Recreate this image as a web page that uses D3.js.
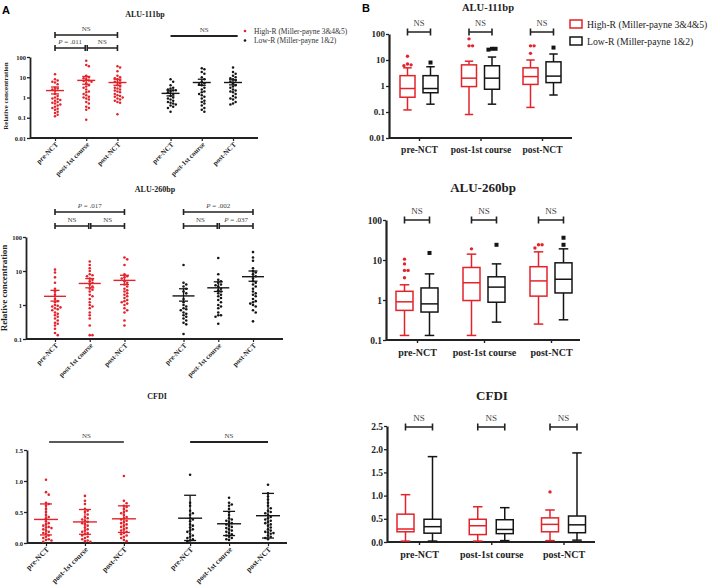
<!DOCTYPE html>
<html><head><meta charset="utf-8">
<script src="https://cdn.jsdelivr.net/npm/d3@7"></script>
<style>
body{margin:0;background:#fff;}
svg{display:block;font-family:"Liberation Serif","Times New Roman",serif;}
</style></head>
<body>
<svg id="c" width="709" height="586"></svg>
<script>
// ---------------- DATA ----------------
const groups = ["pre-NCT", "post-1st course", "post-NCT"];
const seriesNames = ["High-R (Miller-payne 3&4&5)", "Low-R (Miller-payne 1&2)"];
const logTicks4 = [0.01, 0.1, 1, 10, 100];
const logTicks3 = [0.1, 1, 10, 100];
const cfdiTicksA = [0, 0.5, 1.0, 1.5];
const cfdiTicksB = [0, 0.5, 1.0, 1.5, 2.0, 2.5];

// Panel A – individual values (scatter)
const a111High = [
  [14, 8, 7, 6, 5.5, 4.5, 3, 2.8, 2.5, 2.2, 1.5, 1.2, 1, 0.9, 0.85, 0.75, 0.7, 0.6, 0.55, 0.5, 0.45, 0.4, 0.35, 0.3, 0.28, 0.25, 0.2, 0.17, 0.14, 0.12],
  [65, 40, 35, 12, 10, 9, 8, 7, 6.5, 6, 5, 4, 3.5, 3, 2.5, 2, 1.8, 1.5, 1.3, 1.1, 1, 0.9, 0.8, 0.6, 0.5, 0.35, 0.3, 0.25, 0.08],
  [35, 30, 20, 12, 10, 9, 8, 7, 6, 5.5, 5, 4, 3.5, 3, 2.8, 2.5, 2.2, 2, 1.8, 1.5, 1.3, 1.2, 1.1, 1, 0.9, 0.8, 0.7, 0.6, 0.55, 0.15]
];
const a111Low = [
  [8, 6, 4, 3, 2.8, 2.5, 2.3, 2.2, 2, 1.8, 1.5, 1.2, 1, 0.9, 0.8, 0.7, 0.6, 0.55, 0.5, 0.45, 0.4, 0.35, 0.3, 0.2],
  [28, 25, 18, 15, 10, 8, 6, 5, 4.5, 4, 3, 2.5, 2, 1.8, 1.5, 1.3, 1.1, 0.9, 0.7, 0.6, 0.5, 0.4, 0.3, 0.25, 0.2],
  [30, 18, 15, 12, 10, 9, 8, 7, 6, 5, 4, 3.5, 3, 2.5, 2.2, 2, 1.8, 1.5, 1.2, 1, 0.9, 0.8, 0.6, 0.5, 0.45]
];
const a111HighMean = [2.2, 7, 5.5], a111HighLo = [1.5, 4.5, 4], a111HighHi = [3.3, 11, 8];
const a111LowMean = [1.6, 5.5, 5.5], a111LowLo = [1.2, 4, 4.2], a111LowHi = [2.3, 8, 7.5];

const a260High = [
  [11, 9, 6.5, 4.5, 3, 2.5, 2, 1.5, 1.3, 1.2, 1, 0.95, 0.9, 0.85, 0.8, 0.75, 0.7, 0.6, 0.55, 0.5, 0.45, 0.4, 0.35, 0.3, 0.28, 0.25, 0.2, 0.15, 0.13],
  [19, 15, 12, 10, 8, 7.5, 7, 6, 5.5, 5, 4.5, 4, 3.5, 3, 2.8, 2.5, 2, 1.8, 1.5, 1.2, 1, 0.9, 0.8, 0.6, 0.5, 0.4, 0.25, 0.13, 0.13],
  [25, 22, 15, 8, 7, 6.5, 6, 5, 4.5, 4, 3.5, 3, 2.7, 2.5, 2.2, 2, 1.8, 1.6, 1.4, 1.3, 1.2, 1.1, 1, 0.8, 0.7, 0.6, 0.35, 0.25]
];
const a260Low = [
  [15, 4.5, 4, 3.5, 3, 2.5, 2.2, 1.5, 1.2, 1, 0.9, 0.8, 0.75, 0.7, 0.6, 0.55, 0.5, 0.45, 0.4, 0.35, 0.3, 0.27, 0.14],
  [24, 8, 5.5, 5, 4.5, 4, 3.8, 3.5, 3, 2.7, 2.5, 2.2, 2, 1.8, 1.6, 1.4, 1.2, 1, 0.9, 0.8, 0.6, 0.5, 0.5, 0.45, 0.28],
  [36, 25, 20, 12, 10, 9, 8, 7, 6, 5, 4.5, 4, 3.5, 3, 2.5, 2.2, 2, 1.8, 1.5, 1.3, 1.2, 1.1, 1, 0.9, 0.7, 0.6, 0.33]
];
const a260HighMean = [1.8, 4.3, 5.3], a260HighLo = [1.3, 3.2, 4], a260HighHi = [2.7, 6, 7.5];
const a260LowMean = [1.85, 3.2, 6.8], a260LowLo = [1.3, 2.5, 5], a260LowHi = [3, 4.8, 10];

const aCfdiHigh = [
  [1.02, 0.82, 0.78, 0.65, 0.63, 0.6, 0.55, 0.5, 0.45, 0.42, 0.4, 0.35, 0.32, 0.3, 0.28, 0.26, 0.25, 0.24, 0.22, 0.2, 0.18, 0.16, 0.15, 0.12, 0.1, 0.08, 0.06, 0.05, 0.04, 0.02],
  [0.76, 0.68, 0.63, 0.55, 0.52, 0.5, 0.46, 0.42, 0.4, 0.38, 0.36, 0.34, 0.32, 0.3, 0.28, 0.25, 0.22, 0.2, 0.18, 0.16, 0.14, 0.12, 0.1, 0.08, 0.06, 0.04, 0.03, 0.02],
  [1.08, 0.68, 0.64, 0.6, 0.58, 0.55, 0.52, 0.5, 0.48, 0.45, 0.42, 0.4, 0.38, 0.36, 0.34, 0.32, 0.3, 0.28, 0.26, 0.24, 0.22, 0.2, 0.18, 0.16, 0.14, 0.12, 0.1, 0.08, 0.05, 0.03]
];
const aCfdiLow = [
  [1.1, 0.65, 0.6, 0.52, 0.48, 0.45, 0.4, 0.38, 0.35, 0.3, 0.28, 0.25, 0.22, 0.2, 0.18, 0.15, 0.12, 0.1, 0.08, 0.06, 0.04, 0.03],
  [0.73, 0.65, 0.62, 0.6, 0.55, 0.5, 0.45, 0.4, 0.38, 0.36, 0.34, 0.32, 0.3, 0.28, 0.26, 0.24, 0.22, 0.2, 0.18, 0.16, 0.14, 0.12, 0.1, 0.08, 0.06, 0.05],
  [0.94, 0.8, 0.75, 0.7, 0.65, 0.6, 0.56, 0.52, 0.5, 0.48, 0.45, 0.42, 0.4, 0.38, 0.36, 0.34, 0.32, 0.3, 0.28, 0.25, 0.22, 0.2, 0.18, 0.17, 0.16, 0.15, 0.12, 0.1, 0.08, 0.06]
];
const aCfdiHighMean = [0.38, 0.34, 0.39], aCfdiHighLo = [0.13, 0.14, 0.17], aCfdiHighHi = [0.63, 0.54, 0.6];
const aCfdiLowMean = [0.4, 0.31, 0.44], aCfdiLowLo = [0.04, 0.12, 0.08], aCfdiLowHi = [0.77, 0.51, 0.8];

// Panel B – box summaries [min, q1, median, q3, max] and outliers
const b111High = [[0.12, 0.37, 0.8, 2.5, 5], [0.08, 0.95, 2, 6.5, 9], [0.15, 1.15, 2.3, 5, 10]];
const b111HighOut = [[6, 6.5, 7, 14], [35, 35, 65], [18, 35, 35]];
const b111Low = [[0.2, 0.55, 0.8, 2.5, 5.5], [0.2, 0.75, 2, 6, 13], [0.45, 1.35, 2.4, 8.5, 17]];
const b111LowOut = [[8], [25, 27, 27], [30]];

const b260High = [[0.13, 0.55, 0.9, 1.65, 2.4], [0.13, 0.97, 2.7, 6.5, 14], [0.25, 1.25, 3, 6.8, 16]];
const b260HighOut = [[3.6, 5.5, 5.5, 8, 10.5], [19], [20, 24, 24]];
const b260Low = [[0.13, 0.5, 0.8, 2, 4.5], [0.28, 0.88, 2.1, 3.8, 8], [0.32, 1.5, 3.3, 8.5, 19]];
const b260LowOut = [[15], [24], [24, 36]];

const bCfdiHigh = [[0.02, 0.22, 0.28, 0.6, 1.02], [0.02, 0.16, 0.35, 0.49, 0.76], [0.03, 0.22, 0.38, 0.52, 0.69]];
const bCfdiHighOut = [[], [], [1.08]];
const bCfdiLow = [[0.02, 0.19, 0.33, 0.49, 1.84], [0.03, 0.18, 0.27, 0.48, 0.74], [0.04, 0.2, 0.37, 0.56, 1.92]];
const bCfdiLowOut = [[], [], []];

// ---------------- DRAWING ----------------
const RED = "#e3232b", BLK = "#151515";
const svg = d3.select("#c");

function swarm(vals, y, r) {
  const pts = vals.map(v => ({ v, y: y(v) })).sort((a, b) => a.y - b.y);
  const placed = [];
  for (const p of pts) {
    for (let k = 0; k < 40; k++) {
      const off = k === 0 ? 0 : (k % 2 ? 1 : -1) * Math.ceil(k / 2) * r * 2.1;
      if (!placed.some(q => Math.hypot(q.dx - off, q.y - p.y) < r * 2.05)) { p.dx = off; placed.push(p); break; }
    }
  }
  return placed;
}

function yAxis(g, y, ticks, fmt, x0, fs, sw) {
  const ax = g.append("g").attr("transform", `translate(${x0},0)`)
    .call(d3.axisLeft(y).tickValues(ticks).tickFormat(fmt).tickSize(3).tickSizeOuter(0));
  ax.select(".domain").attr("stroke", "#222").attr("stroke-width", sw || 1.8);
  ax.selectAll(".tick line").attr("stroke", "#222").attr("stroke-width", 1.3);
  ax.selectAll("text").attr("font-family", "Liberation Serif").attr("font-weight", "bold")
    .attr("font-size", fs).attr("fill", "#222").attr("x", -4);
}

function scatterPanel(cfg) {
  const g = svg.append("g");
  const x = d3.scaleLinear().domain([0, 5.7]).range(cfg.xr);
  const pos = [[0, 1, 2], [3.7, 4.7, 5.7]];
  const y = cfg.y;
  g.append("line").attr("x1", cfg.axX[0]).attr("x2", cfg.axX[1])
    .attr("y1", cfg.axY).attr("y2", cfg.axY).attr("stroke", "#222").attr("stroke-width", 1.8);
  const xa = g.append("g").attr("transform", `translate(0,${cfg.axY})`)
    .call(d3.axisBottom(x).tickValues(pos[0].concat(pos[1]))
      .tickFormat((d, i) => groups[i % 3]).tickSize(3).tickSizeOuter(0));
  xa.select(".domain").remove();
  xa.selectAll(".tick line").attr("stroke", "#222").attr("stroke-width", 1.2);
  xa.selectAll("text").attr("font-family", "Liberation Serif").attr("font-weight", "bold")
    .attr("font-size", cfg.xfs).attr("fill", "#222").attr("text-anchor", "end")
    .attr("dy", 0).attr("y", 0).attr("transform", "translate(3,7) rotate(-45)");
  yAxis(g, y, cfg.ticks, cfg.fmt, cfg.axX[0], cfg.yfs);
  if (cfg.ylabel) {
    g.append("text").attr("transform", `translate(${cfg.ylabelX},${cfg.ylabelY}) rotate(-90)`)
      .attr("text-anchor", "middle").attr("font-weight", "bold").attr("font-size", cfg.ylfs)
      .attr("fill", "#222").text("Relative concentration");
  }
  g.append("text").attr("x", cfg.title[0]).attr("y", cfg.title[1]).attr("text-anchor", "middle")
    .attr("font-weight", "bold").attr("font-size", cfg.tfs).attr("fill", "#222").text(cfg.title[2]);
  [[cfg.hi, RED, cfg.hiM, cfg.hiL, cfg.hiH], [cfg.lo, BLK, cfg.loM, cfg.loL, cfg.loH]].forEach((s, si) => {
    s[0].forEach((vals, gi) => {
      const cx = x(pos[si][gi]);
      const pts = swarm(vals, y, cfg.r);
      g.append("g").selectAll("circle").data(pts).join("circle")
        .attr("cx", d => cx + d.dx).attr("cy", d => d.y).attr("r", cfg.r).attr("fill", s[1]);
      const m = s[2][gi], lo = s[3][gi], hi = s[4][gi];
      g.append("line").attr("x1", cx - cfg.mw).attr("x2", cx + cfg.mw).attr("y1", y(m)).attr("y2", y(m))
        .attr("stroke", s[1]).attr("stroke-width", 1.4);
      g.append("line").attr("x1", cx).attr("x2", cx).attr("y1", y(lo)).attr("y2", y(hi))
        .attr("stroke", s[1]).attr("stroke-width", 1.3);
      [lo, hi].forEach(v => g.append("line").attr("x1", cx - cfg.cw).attr("x2", cx + cfg.cw)
        .attr("y1", y(v)).attr("y2", y(v)).attr("stroke", s[1]).attr("stroke-width", 1.3));
    });
  });
  (cfg.brackets || []).forEach(b => {
    const x1 = x(b[0]) + (b[4] || 0), x2 = x(b[1]) + (b[5] || 0), yy = b[2];
    const p = d3.path();
    if (b[6] === "plain") { p.moveTo(x1, yy); p.lineTo(x2, yy); }
    else { p.moveTo(x1, yy - 3); p.lineTo(x1, yy + 3); p.moveTo(x1, yy); p.lineTo(x2, yy); p.moveTo(x2, yy - 3); p.lineTo(x2, yy + 3); }
    g.append("path").attr("d", p.toString()).attr("stroke", "#222").attr("stroke-width", b[7] || 1.6).attr("fill", "none");
    const t = g.append("text").attr("x", (x1 + x2) / 2).attr("y", yy - 4).attr("text-anchor", "middle")
      .attr("font-size", cfg.bfs).attr("fill", "#444");
    if (b[3].startsWith("P")) {
      t.append("tspan").attr("font-style", "italic").text("P");
      t.append("tspan").text(b[3].slice(1));
    } else t.text(b[3]);
  });
  return g;
}

function boxPanel(cfg) {
  const g = svg.append("g");
  const x = d3.scalePoint().domain(groups).range(cfg.xr);
  const inner = d3.scalePoint().domain(seriesNames).range([-cfg.off, cfg.off]);
  const y = cfg.y;
  g.append("line").attr("x1", cfg.axX[0]).attr("x2", cfg.axX[1])
    .attr("y1", cfg.axY).attr("y2", cfg.axY).attr("stroke", "#222").attr("stroke-width", 2.2);
  const xa = g.append("g").attr("transform", `translate(0,${cfg.axY})`)
    .call(d3.axisBottom(x).tickSize(3).tickSizeOuter(0));
  xa.select(".domain").remove();
  xa.selectAll(".tick line").attr("stroke", "#222").attr("stroke-width", 1.4);
  xa.selectAll("text").attr("font-family", "Liberation Serif").attr("font-weight", "bold")
    .attr("font-size", cfg.xfs).attr("fill", "#222").attr("y", cfg.xly);
  yAxis(g, y, cfg.ticks, cfg.fmt, cfg.axX[0], cfg.yfs, 2.2);
  g.append("text").attr("x", cfg.title[0]).attr("y", cfg.title[1]).attr("text-anchor", "middle")
    .attr("font-weight", "bold").attr("font-size", cfg.tfs).attr("fill", "#222").text(cfg.title[2]);
  const w = cfg.bw;
  [[cfg.hi, cfg.hiOut, RED, seriesNames[0]], [cfg.lo, cfg.loOut, BLK, seriesNames[1]]].forEach(s => {
    s[0].forEach((st, gi) => {
      const cx = x(groups[gi]) + inner(s[3]);
      const [mn, q1, md, q3, mx] = st;
      const gg = g.append("g").attr("stroke", s[2]).attr("stroke-width", 1.5).attr("fill", "none");
      gg.append("line").attr("x1", cx).attr("x2", cx).attr("y1", y(q1)).attr("y2", y(mn));
      gg.append("line").attr("x1", cx).attr("x2", cx).attr("y1", y(q3)).attr("y2", y(mx));
      [mn, mx].forEach(v => gg.append("line").attr("x1", cx - w * 0.28).attr("x2", cx + w * 0.28)
        .attr("y1", y(v)).attr("y2", y(v)));
      gg.append("rect").attr("x", cx - w / 2).attr("width", w).attr("y", y(q3)).attr("height", y(q1) - y(q3));
      gg.append("line").attr("x1", cx - w / 2).attr("x2", cx + w / 2).attr("y1", y(md)).attr("y2", y(md));
      const outs = s[1][gi];
      const pts = swarm(outs, y, 1.7);
      pts.forEach(p => {
        if (s[2] === RED) g.append("circle").attr("cx", cx + p.dx).attr("cy", p.y).attr("r", 1.7).attr("fill", RED);
        else g.append("rect").attr("x", cx + p.dx - 2).attr("y", p.y - 2).attr("width", 4).attr("height", 4).attr("fill", BLK);
      });
    });
  });
  groups.forEach(gname => {
    const x1 = x(gname) + inner(seriesNames[0]), x2 = x(gname) + inner(seriesNames[1]), yy = cfg.brY;
    const p = d3.path();
    p.moveTo(x1, yy - 3.5); p.lineTo(x1, yy + 3.5); p.moveTo(x1, yy); p.lineTo(x2, yy);
    p.moveTo(x2, yy - 3.5); p.lineTo(x2, yy + 3.5);
    g.append("path").attr("d", p.toString()).attr("stroke", "#222").attr("stroke-width", 1.6).attr("fill", "none");
    g.append("text").attr("x", (x1 + x2) / 2).attr("y", yy - 6).attr("text-anchor", "middle")
      .attr("font-size", cfg.bfs).attr("fill", "#444").text("NS");
  });
  return g;
}

const logFmt = d => d >= 1 ? d3.format("d")(d) : String(d);

svg.append("text").attr("x", 2).attr("y", 14).attr("font-family", "Liberation Sans, Arial")
  .attr("font-weight", "bold").attr("font-size", 11).text("A");
svg.append("text").attr("x", 362).attr("y", 12).attr("font-family", "Liberation Sans, Arial")
  .attr("font-weight", "bold").attr("font-size", 11).text("B");

// A1
scatterPanel({
  xr: [55, 233], axX: [30, 258], axY: 138, y: d3.scaleLog().domain([0.01, 100]).range([138, 57]),
  ticks: logTicks4, fmt: logFmt, xfs: 7, yfs: 6.5, r: 1.25, mw: 9, cw: 4, bfs: 7, tfs: 8,
  ylabel: true, ylabelX: 8, ylabelY: 96, ylfs: 7, title: [145, 17, "ALU-111bp"],
  hi: a111High, lo: a111Low, hiM: a111HighMean, hiL: a111HighLo, hiH: a111HighHi,
  loM: a111LowMean, loL: a111LowLo, loH: a111LowHi,
  brackets: [[0, 2, 35, "NS"], [0, 1, 48, "P = .011", 0, -1], [1, 2, 48, "NS", 1, 0], [3.7, 5.85, 36, "NS", 0, 0, "plain", 1.8]]
});
// A2
scatterPanel({
  xr: [55, 253], axX: [26, 283], axY: 339, y: d3.scaleLog().domain([0.1, 100]).range([339, 237]),
  ticks: logTicks3, fmt: logFmt, xfs: 7, yfs: 6.5, r: 1.3, mw: 11, cw: 4.5, bfs: 7, tfs: 8,
  ylabel: true, ylabelX: 7, ylabelY: 288, ylfs: 9, title: [155, 192, "ALU-260bp"],
  hi: a260High, lo: a260Low, hiM: a260HighMean, hiL: a260HighLo, hiH: a260HighHi,
  loM: a260LowMean, loL: a260LowLo, loH: a260LowHi,
  brackets: [[0, 2, 212, "P = .017"], [0, 1, 226, "NS", 0, -1], [1, 2, 226, "NS", 1, 0],
             [3.7, 5.7, 212, "P = .002"], [3.7, 4.7, 226, "NS", 0, -1], [4.7, 5.7, 226, "P = .037", 1, 0]]
});
// A3
scatterPanel({
  xr: [46, 268], axX: [27, 287], axY: 543, y: d3.scaleLinear().domain([0, 1.5]).range([543, 450]),
  ticks: cfdiTicksA, fmt: d3.format(".1f"), xfs: 7.5, yfs: 6.5, r: 1.3, mw: 12, cw: 6, bfs: 7, tfs: 8,
  ylabel: false, title: [157, 399, "CFDI"],
  hi: aCfdiHigh, lo: aCfdiLow, hiM: aCfdiHighMean, hiL: aCfdiHighLo, hiH: aCfdiHighHi,
  loM: aCfdiLowMean, loL: aCfdiLowLo, loH: aCfdiLowHi,
  brackets: [[0.08, 2, 442, "NS", 0, 0, "plain", 1.4], [3.7, 5.7, 442, "NS", 0, 0, "plain", 2]]
});

// Legend A
seriesNames.forEach((s, i) => {
  svg.append("circle").attr("cx", 245).attr("cy", 31 + i * 9.5).attr("r", 1.3).attr("fill", i ? BLK : RED);
  svg.append("text").attr("x", 254).attr("y", 33.5 + i * 9.5).attr("font-size", 7.5).attr("fill", "#333").text(s);
});

// B1
boxPanel({
  xr: [419, 542], axX: [389, 572], axY: 138, y: d3.scaleLog().domain([0.01, 100]).range([138, 34]),
  ticks: logTicks4, fmt: logFmt, xfs: 9.5, yfs: 9, xly: 8, off: 11.5, bw: 15, brY: 32, bfs: 8.5, tfs: 10.5,
  title: [488, 11, "ALU-111bp"], hi: b111High, hiOut: b111HighOut, lo: b111Low, loOut: b111LowOut
});
// B2
boxPanel({
  xr: [417, 551], axX: [386, 580], axY: 340, y: d3.scaleLog().domain([0.1, 100]).range([340, 220]),
  ticks: logTicks3, fmt: logFmt, xfs: 10, yfs: 9.5, xly: 9, off: 12.5, bw: 17, brY: 220, bfs: 9, tfs: 13,
  title: [483, 192, "ALU-260bp"], hi: b260High, hiOut: b260HighOut, lo: b260Low, loOut: b260LowOut
});
// B3
boxPanel({
  xr: [419, 563.5], axX: [387, 595], axY: 542, y: d3.scaleLinear().domain([0, 2.5]).range([542, 426]),
  ticks: cfdiTicksB, fmt: d3.format(".1f"), xfs: 10, yfs: 9.5, xly: 9, off: 13.5, bw: 17, brY: 427, bfs: 9, tfs: 13,
  title: [492, 400, "CFDI"], hi: bCfdiHigh, hiOut: bCfdiHighOut, lo: bCfdiLow, loOut: bCfdiLowOut
});

// Legend B
seriesNames.forEach((s, i) => {
  svg.append("rect").attr("x", 570).attr("y", 20 + i * 17).attr("width", 12).attr("height", 8)
    .attr("fill", "none").attr("stroke", i ? BLK : RED).attr("stroke-width", 1.5);
  svg.append("text").attr("x", 587).attr("y", 28 + i * 17).attr("font-size", 9.7).attr("fill", "#222").text(s);
});
</script>
</body></html>
